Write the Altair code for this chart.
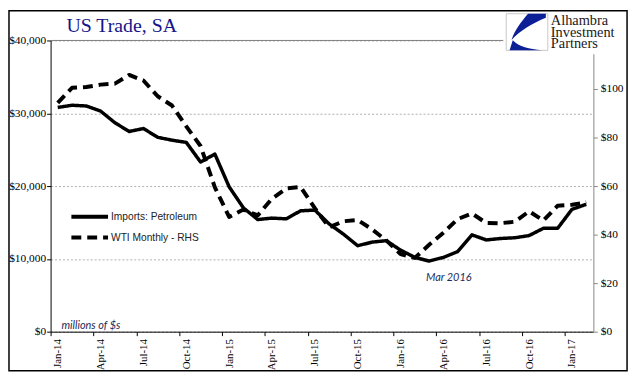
import altair as alt
import pandas as pd

tick_labels = ["Jan-14", "Apr-14", "Jul-14", "Oct-14", "Jan-15", "Apr-15", "Jul-15",
               "Oct-15", "Jan-16", "Apr-16", "Jul-16", "Oct-16", "Jan-17"]
# Monthly, Jan-14 .. Feb-17, $ millions
imports = [30800, 31100, 31000, 30300, 28700, 27500, 27900, 26700, 26300, 26000,
           23300, 24400, 19900, 17000, 15400, 15600, 15500, 16600, 16700, 14800,
           13400, 11800, 12300, 12500, 11200, 10200, 9700, 10200, 11000, 13300,
           12600, 12800, 12900, 13200, 14200, 14200, 16800, 17500]
# WTI monthly average, $ per barrel
wti = [94.3, 100.5, 100.8, 101.8, 102.2, 105.8, 103.5, 97.0, 93.2, 84.6,
       76.5, 59.5, 47.3, 50.3, 47.9, 54.8, 59.0, 59.6, 50.9, 43.0,
       45.5, 46.0, 42.2, 37.6, 32.0, 30.4, 35.8, 40.8, 46.4, 48.7,
       44.8, 44.7, 45.3, 49.6, 45.8, 51.9, 52.3, 53.3]
series_names = ["Imports: Petroleum", "WTI Monthly - RHS"]
left_ticks = [0, 10000, 20000, 30000, 40000]
right_ticks = [0, 20, 40, 60, 80, 100]
logo_lines = ["Alhambra", "Investment", "Partners"]

W, H = 548, 294
n = len(imports)
half = W / n / 2

df = pd.DataFrame({"m": list(range(n)), "imports": imports, "wti": wti})

label_arr = "[" + ",".join("'%s'" % t for t in tick_labels) + "]"
x_enc = alt.X(
    "m:Q",
    scale=alt.Scale(domain=[-0.5, n - 0.5], nice=False, zero=False),
    axis=alt.Axis(
        values=[i - 0.5 for i in range(0, n, 3)],
        labelExpr=label_arr + "[round((datum.value + 0.5) / 3)]",
        labelAngle=270, labelOffset=half, labelPadding=3,
        labelFont="Liberation Serif", labelFontSize=11, labelColor="#000",
        domainColor="#000", tickColor="#000", tickSize=4, grid=False,
    ),
    title=None,
)

dash_scale = alt.Scale(domain=series_names, range=[[1, 0], [10, 6]])
legend = alt.Legend(
    orient="none", legendX=19, legendY=171, title=None, padding=0,
    symbolType="stroke", symbolSize=1369, symbolStrokeWidth=4,
    symbolStrokeColor="#000", labelFont="Liberation Sans", labelFontSize=10.3,
    labelColor="#222", clipHeight=14, rowPadding=7, labelOffset=1,
)

imp_line = alt.Chart(df).transform_calculate(series="'Imports: Petroleum'").mark_line(
    color="#000", strokeWidth=3.5, strokeJoin="round"
).encode(
    x=x_enc,
    y=alt.Y(
        "imports:Q",
        scale=alt.Scale(domain=[0, 40000], nice=False),
        axis=alt.Axis(
            values=left_ticks, format="$,.0f", orient="left",
            labelFont="Liberation Serif", labelFontSize=11.5, labelColor="#000",
            labelPadding=1, tickSize=4, tickColor="#000", domainColor="#000",
            grid=True, gridDash=[2, 2], gridColor="#b0b0b0",
        ),
        title=None,
    ),
    strokeDash=alt.StrokeDash("series:N", scale=dash_scale, legend=legend),
)

wti_line = alt.Chart(df).transform_calculate(series="'WTI Monthly - RHS'").mark_line(
    color="#000", strokeWidth=4, strokeJoin="round"
).encode(
    x=x_enc,
    y=alt.Y(
        "wti:Q",
        scale=alt.Scale(domain=[0, 120], nice=False),
        axis=alt.Axis(
            values=right_ticks, format="$.0f", orient="right",
            labelFont="Liberation Serif", labelFontSize=11.5, labelColor="#000",
            labelPadding=3, tickSize=4, tickColor="#888", domainColor="#888",
            grid=False,
        ),
        title=None,
    ),
    strokeDash=alt.StrokeDash("series:N", scale=dash_scale, legend=legend),
)

one = pd.DataFrame({"a": [0]})

top_rule = alt.Chart(one).mark_rule(color="#808080", strokeWidth=1).encode(
    x=alt.value(0), x2=alt.value(W), y=alt.value(0)
)

title = alt.Chart(one).mark_text(
    text="US Trade, SA", align="left", baseline="alphabetic", font="Liberation Serif",
    fontSize=20, color="#14148a"
).encode(x=alt.value(16), y=alt.value(-9))

logo_bg = alt.Chart(one).mark_rect(fill="white").encode(
    x=alt.value(457), x2=alt.value(582), y=alt.value(-31), y2=alt.value(14)
)
logo_box = alt.Chart(one).mark_rect(fill="white", stroke="#c8c8c8", strokeWidth=1).encode(
    x=alt.value(460), x2=alt.value(502), y=alt.value(-27), y2=alt.value(10)
)
swoosh = ("M 0.05 -0.92 L 0.95 -0.92 L 0.95 -0.72 C 0.3 -0.45 -0.4 -0.05 -0.78 0.4 "
          "C -0.62 -0.1 -0.3 -0.5 0.05 -0.92 Z "
          "M -0.88 0.92 L -0.72 0.42 C -0.4 0.75 0.1 0.86 0.75 0.92 Z")
logo_mark = alt.Chart(one).mark_point(
    shape=swoosh, filled=True, fill="#0c1f96", strokeWidth=0, opacity=1, size=1600
).encode(x=alt.value(481), y=alt.value(-8.5))

logo_text = alt.Chart(one).mark_text(
    text=logo_lines, align="left", baseline="alphabetic", font="Liberation Serif",
    fontSize=14.5, lineHeight=12, color="#1a1a1a"
).encode(x=alt.value(505), y=alt.value(-16))

units = alt.Chart(one).mark_text(
    text="millions of $s", align="left", baseline="alphabetic", font="Lato",
    fontStyle="italic", fontSize=11, color="#1c2b5a"
).encode(x=alt.value(11), y=alt.value(291))

mar_note = alt.Chart(one).mark_text(
    text="Mar 2016", align="left", baseline="alphabetic", font="Lato",
    fontStyle="italic", fontSize=11, color="#1c2b5a"
).encode(x=alt.value(379), y=alt.value(243))

border = alt.Chart(one).mark_rect(fillOpacity=0, stroke="#000", strokeWidth=1.5).encode(
    x=alt.value(-42), x2=alt.value(582), y=alt.value(-30), y2=alt.value(333.5)
)

chart = alt.layer(
    top_rule, imp_line, wti_line, title, logo_bg, logo_box, logo_mark, logo_text,
    units, mar_note, border,
).resolve_scale(y="independent").properties(
    width=W, height=H,
    autosize=alt.AutoSizeParams(type="none"),
    padding={"left": 43, "top": 31, "right": 40, "bottom": 45},
).configure_view(stroke=None)

chart.save("out.html", embed_options={"renderer": "svg", "actions": False})
